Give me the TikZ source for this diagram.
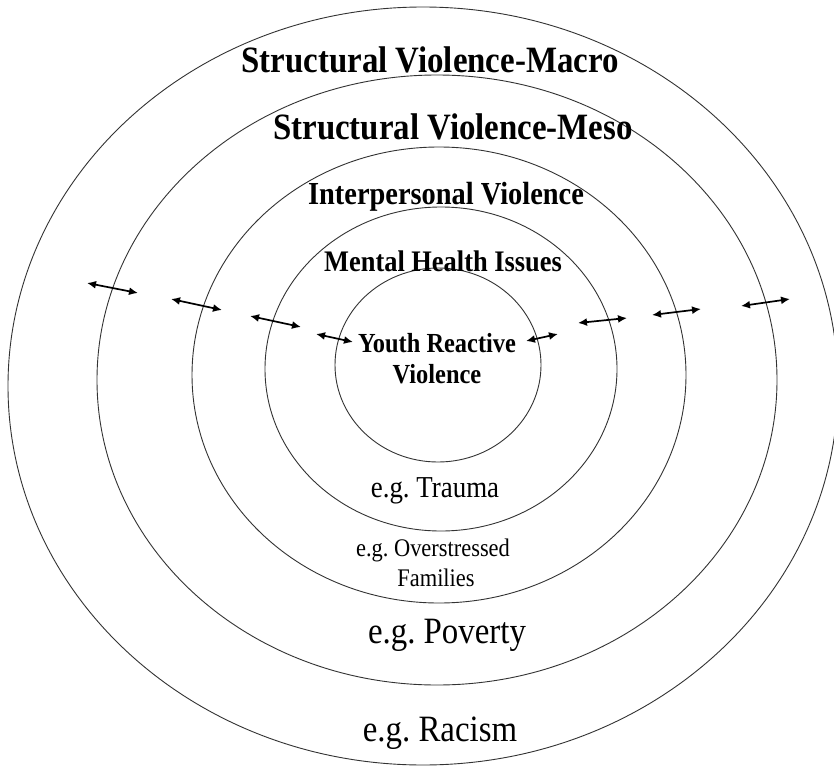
\documentclass[tikz,border=0pt]{standalone}
\usepackage{graphicx}
\usepackage{fontspec}
\setmainfont{Liberation Serif}
\frenchspacing
\usetikzlibrary{arrows.meta}
% slightly tall lettering
\newcommand{\talltext}[2]{\scalebox{1}[1.13]{\fontsize{#1}{#1}\selectfont #2}}
\begin{document}
\begin{tikzpicture}[x=1bp,y=-1bp,
  ring/.style={draw=black!80,line width=0.9bp},
  twoway/.style={line width=1.7bp,{Latex[length=9bp,width=8bp]}-{Latex[length=9bp,width=8bp]}},
  bold/.style={font=\bfseries,anchor=base,inner sep=0pt},
  plain/.style={anchor=base,inner sep=0pt}]
\useasboundingbox (0,0) rectangle (834,769);
\fill[white] (0,0) rectangle (834,769);

% concentric rings, outermost first
\draw[ring] (423,386) ellipse [x radius=415, y radius=379];
\draw[ring] (437,380) ellipse [x radius=340, y radius=305];
\draw[ring] (439,375) ellipse [x radius=247, y radius=228];
\draw[ring] (441,369) ellipse [x radius=176, y radius=162];
\draw[ring] (438,365) ellipse [x radius=103, y radius=97];

% ring titles
\node[bold] (macro) at (430,73) {\talltext{33}{Structural Violence-Macro}};
\node[bold] (meso) at (453,139) {\talltext{33}{Structural Violence-Meso}};
\node[bold] (inter) at (446,204) {\talltext{28.5}{Interpersonal Violence}};
\node[bold] (mental) at (443,271) {\talltext{26.5}{Mental Health Issues}};
\node[bold] (youth) at (437,352) {\talltext{24.5}{Youth Reactive}};
\node[bold] (youth2) at (437,383) {\talltext{24.5}{Violence}};

% examples
\node[plain] (trauma) at (435,497) {\talltext{27}{e.g. Trauma}};
\node[plain] (stress) at (433,556) {\talltext{22.5}{e.g. Overstressed}};
\node[plain] (fam) at (436,586) {\talltext{22.5}{Families}};
\node[plain] (poverty) at (447,643) {\talltext{33}{e.g. Poverty}};
\node[plain] (racism) at (440,741) {\talltext{33}{e.g. Racism}};

% arrow end points
\coordinate (a1s) at (87,283);  \coordinate (a1e) at (138,293);
\coordinate (a2s) at (171,299); \coordinate (a2e) at (222,310);
\coordinate (a3s) at (250,316); \coordinate (a3e) at (301,327);
\coordinate (a4s) at (316,334); \coordinate (a4e) at (353,342);
\coordinate (a5s) at (526,341); \coordinate (a5e) at (558,334);
\coordinate (a6s) at (578,323); \coordinate (a6e) at (627,318);
\coordinate (a7s) at (652,315); \coordinate (a7e) at (701,309);
\coordinate (a8s) at (741,306); \coordinate (a8e) at (790,299);

\foreach \i in {1,...,8} \draw[twoway] (a\i s) -- (a\i e);
\end{tikzpicture}
\end{document}
